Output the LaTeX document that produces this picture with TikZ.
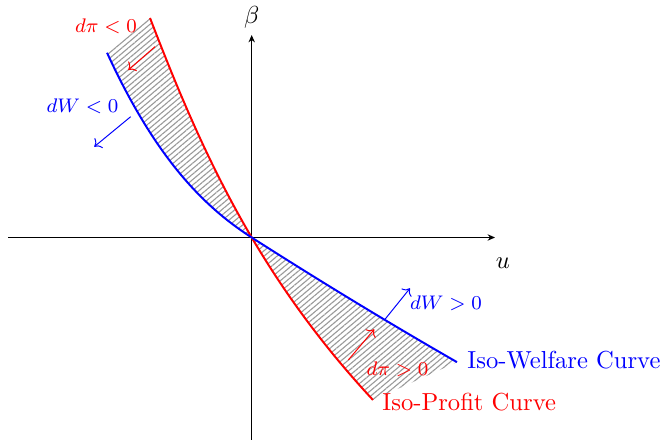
\documentclass[tikz,border=0pt]{standalone}
\usetikzlibrary{arrows.meta,patterns.meta}
\begin{document}
\begin{tikzpicture}[x=0.4065pt,y=-0.4065pt,
  axisline/.style={line width=0.5pt,-{Stealth[length=3pt,width=2.6pt]}},
  curveline/.style={line width=0.8pt},
  hatch/.style={pattern={Lines[angle=40,distance=1.7pt,line width=0.45pt]},pattern color=gray!80},
  smallarrow/.style={line width=0.4pt,->},
  smalllabel/.style={font=\fontsize{8.5}{10}\selectfont,inner sep=0pt},
  biglabel/.style={inner sep=0pt,anchor=west},
  smp/.style={samples=60,smooth}]
\useasboundingbox (0,0) rectangle (663,445);
% curve pieces (t, s scaled by 100 px)
% red:   x = 251.7 + 58.99 t + 7.99 t^2 + 1.011 t^3,  y = 237.5 + 100 t
% blue left:  x = 251.7 + 100 s, y = 237.5 + 64 s - 25.87 s^2 + 12.55 s^3
% blue right: x = 251.7 + 100 s, y = 237.5 + 64 s - 1.6 s^2
\coordinate (O) at (251.7,237.5);
\coordinate (rtop) at (150,18);
\coordinate (btop) at (107,52.7);
\coordinate (rbot) at (373,400);
\coordinate (bbot) at (457,360.5);
% hatched regions
\fill[hatch] plot[smp,domain=-2.195:0] ({251.7+58.99*\x+7.99*\x*\x+1.011*\x*\x*\x},{237.5+100*\x})
  -- plot[smp,domain=0:1.447] ({251.7-100*\x},{237.5-64*\x-25.87*\x*\x-12.55*\x*\x*\x}) -- cycle;
\fill[hatch] plot[smp,domain=0:1.625] ({251.7+58.99*\x+7.99*\x*\x+1.011*\x*\x*\x},{237.5+100*\x})
  -- plot[smp,domain=0:2.053] ({251.7+100*(2.053-\x)},{237.5+64*(2.053-\x)-1.6*(2.053-\x)*(2.053-\x)}) -- cycle;
% axes
\coordinate (xl) at (8.3,237.5);
\coordinate (xr) at (495,237.5);
\coordinate (yb) at (251.7,440);
\coordinate (yt) at (251.7,35);
\draw[axisline] (xl) -- (xr);
\draw[axisline] (yb) -- (yt);
\node (beta) at (251.7,17) {$\beta$};
\node (u) at (503,263) {$u$};
% curves
\draw[curveline,red] plot[smp,domain=-2.195:1.625] ({251.7+58.99*\x+7.99*\x*\x+1.011*\x*\x*\x},{237.5+100*\x});
\draw[curveline,blue] plot[smp,domain=0:1.447] ({251.7-100*\x},{237.5-64*\x-25.87*\x*\x-12.55*\x*\x*\x});
\draw[curveline,blue] plot[smp,domain=0:2.053] ({251.7+100*\x},{237.5+64*\x-1.6*\x*\x});
% small arrows
\coordinate (ra1) at (155,46.7); \coordinate (ra2) at (128.3,70);
\coordinate (ba1) at (130.7,116.7); \coordinate (ba2) at (94.3,146.7);
\coordinate (bb1) at (385,319.3); \coordinate (bb2) at (410,288.3);
\coordinate (rb1) at (348.3,360); \coordinate (rb2) at (374.3,329.3);
\draw[smallarrow,red] (ra1) -- (ra2);
\draw[smallarrow,blue] (ba1) -- (ba2);
\draw[smallarrow,blue] (bb1) -- (bb2);
\draw[smallarrow,red] (rb1) -- (rb2);
% labels
\node[smalllabel,red] (dpineg) at (106,26.5) {$d\pi<0$};
\node[smalllabel,blue] (dwneg) at (82.5,106.5) {$dW<0$};
\node[smalllabel,blue] (dwpos) at (446,303.5) {$dW>0$};
\node[smalllabel,red] (dpipos) at (397.5,369.5) {$d\pi>0$};
\node[biglabel,blue] (iw) at (467,360) {Iso-Welfare Curve};
\node[biglabel,red] (ip) at (382,402) {Iso-Profit Curve};
\end{tikzpicture}
\end{document}
